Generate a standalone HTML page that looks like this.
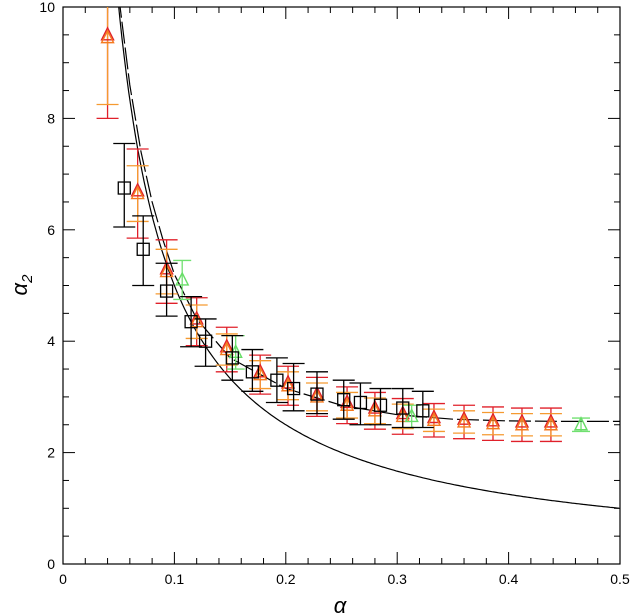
<!DOCTYPE html>
<html><head><meta charset="utf-8"><style>
body{margin:0;background:#fff;}
svg{display:block;font-family:"Liberation Sans",sans-serif;}
</style></head><body>
<svg id="chart" width="630" height="616"></svg>
<script>
const sqX=[0.055,0.072,0.093,0.115,0.128,0.152,0.170,0.192,0.207,0.228,0.252,0.267,0.285,0.305,0.323];
const sqY=[6.75,5.65,4.9,4.35,4.0,3.7,3.45,3.3,3.15,3.05,2.95,2.9,2.85,2.8,2.75];
const sqLo=[6.05,5.0,4.45,3.9,3.55,3.3,3.1,2.9,2.75,2.7,2.6,2.5,2.5,2.45,2.45];
const sqHi=[7.55,6.25,5.4,4.8,4.4,4.1,3.85,3.7,3.6,3.45,3.3,3.25,3.15,3.15,3.1];
const trX=[0.040,0.067,0.093,0.120,0.147,0.177,0.202,0.228,0.255,0.280,0.305,0.333,0.360,0.386,0.412,0.438];
const trY=[9.45,6.65,5.25,4.35,3.85,3.4,3.2,3.0,2.85,2.75,2.65,2.58,2.55,2.52,2.5,2.5];
const trRedErr=[1.45,0.8,0.57,0.43,0.4,0.35,0.35,0.35,0.33,0.33,0.32,0.3,0.3,0.3,0.3,0.3];
const trOrgErr=[1.2,0.5,0.4,0.3,0.28,0.25,0.25,0.25,0.23,0.23,0.22,0.2,0.2,0.2,0.2,0.2];
const grX=[0.107,0.155,0.313,0.465];
const grY=[5.1,3.8,2.65,2.5];
const grErr=[0.35,0.3,0.2,0.12];
const dashX=[0.05,0.06,0.07,0.08,0.09,0.1,0.12,0.15,0.2,0.25,0.3,0.35,0.4,0.45,0.5];
const dashY=[10.2,8.6,7.4,6.5,5.8,5.2,4.4,3.7,3.15,2.85,2.68,2.6,2.57,2.56,2.56];
const xTicks=[0,0.1,0.2,0.3,0.4,0.5];
const xTickLabels=["0","0.1","0.2","0.3","0.4","0.5"];
const yTicks=[0,2,4,6,8,10];
const yTickLabels=["0","2","4","6","8","10"];

const L=63,R=620,T=7,B=564;
const sx=v=>L+(v-0)/0.5*(R-L);
const sy=v=>B-(v/10)*(B-T);
const svg=document.getElementById('chart');
const NS='http://www.w3.org/2000/svg';
function mk(tag,attrs,parent){const e=document.createElementNS(NS,tag);for(const k in attrs)e.setAttribute(k,attrs[k]);(parent||svg).appendChild(e);return e;}

const defs=mk('clipPath',{id:'clip'});mk('rect',{x:L,y:T,width:R-L,height:B-T},defs);
const frame=mk('rect',{x:L,y:T,width:R-L,height:B-T,fill:'none',stroke:'#000','stroke-width':1.2});


// ticks
for(let i=0;i<=25;i++){const v=i*0.02;const x=sx(v);const big=(i%5===0);const len=big?12:6;
 mk('line',{x1:x,y1:B,x2:x,y2:B-len,stroke:'#000'});mk('line',{x1:x,y1:T,x2:x,y2:T+len,stroke:'#000'});}
for(let i=0;i<=20;i++){const v=i*0.5;const y=sy(v);const big=(i%4===0);const len=big?12:6;
 mk('line',{x1:L,y1:y,x2:L+len,y2:y,stroke:'#000'});mk('line',{x1:R,y1:y,x2:R-len,y2:y,stroke:'#000'});}
xTicks.forEach((v,i)=>{const t=mk('text',{x:sx(v),y:584,'text-anchor':'middle','font-size':14});t.textContent=xTickLabels[i];
 });
yTicks.forEach((v,i)=>{const t=mk('text',{x:L-8,y:sy(v)+5,'text-anchor':'end','font-size':14});t.textContent=yTickLabels[i];
 });
const xt=mk('text',{x:340,y:613,'text-anchor':'middle','font-size':22,'font-style':'italic'});xt.textContent='α';

const yt=mk('text',{x:0,y:0,'text-anchor':'middle','font-size':22,'font-style':'italic',transform:'translate(27,285) rotate(-90)'});
yt.textContent='α';const sub=mk('tspan',{'font-size':15,dy:5},yt);sub.textContent='2';


const g=mk('g',{'clip-path':'url(#clip)'});
// solid curve 1/(2α)
let d='';for(let a=0.045;a<=0.5001;a+=0.002){d+=(d?'L':'M')+sx(a).toFixed(1)+','+sy(1/(2*a)).toFixed(1);}
const sc=mk('path',{d:d,fill:'none',stroke:'#000','stroke-width':1.2},g);

let d2='';dashX.forEach((a,i)=>{d2+=(i?'L':'M')+sx(a).toFixed(1)+','+sy(dashY[i]).toFixed(1);});
const dc=mk('path',{d:d2,fill:'none',stroke:'#000','stroke-width':1.2,'stroke-dasharray':'22,4'},g);


function errbar(x,lo,hi,col,w){mk('line',{x1:sx(x),y1:sy(lo),x2:sx(x),y2:sy(hi),stroke:col,'stroke-width':1.3},g);
 mk('line',{x1:sx(x)-w,y1:sy(lo),x2:sx(x)+w,y2:sy(lo),stroke:col,'stroke-width':1.3},g);
 mk('line',{x1:sx(x)-w,y1:sy(hi),x2:sx(x)+w,y2:sy(hi),stroke:col,'stroke-width':1.3},g);}
function tri(x,y,col){const cx=sx(x),cy=sy(y);const t=mk('polygon',{points:`${cx-6},${cy+5} ${cx+6},${cy+5} ${cx},${cy-7}`,fill:'none',stroke:col,'stroke-width':1.4},g);return t;}

trX.forEach((x,i)=>{errbar(x,trY[i]-trRedErr[i],trY[i]+trRedErr[i],'#e0202a',11);
 errbar(x,trY[i]-trOrgErr[i],trY[i]+trOrgErr[i],'#f59a30',11);
 const t1=tri(x,trY[i]+0.05,'#e0202a');
 const t2=tri(x,trY[i],'#f57a20');});
grX.forEach((x,i)=>{errbar(x,grY[i]-grErr[i],grY[i]+grErr[i],'#70e070',9);
 const t=tri(x,grY[i],'#66dd66');});
sqX.forEach((x,i)=>{errbar(x,sqLo[i],sqHi[i],'#000',11);
 const s=mk('rect',{x:sx(x)-6,y:sy(sqY[i])-6,width:12,height:12,fill:'none',stroke:'#000','stroke-width':1.3},g);
 });
</script>
</body></html>
